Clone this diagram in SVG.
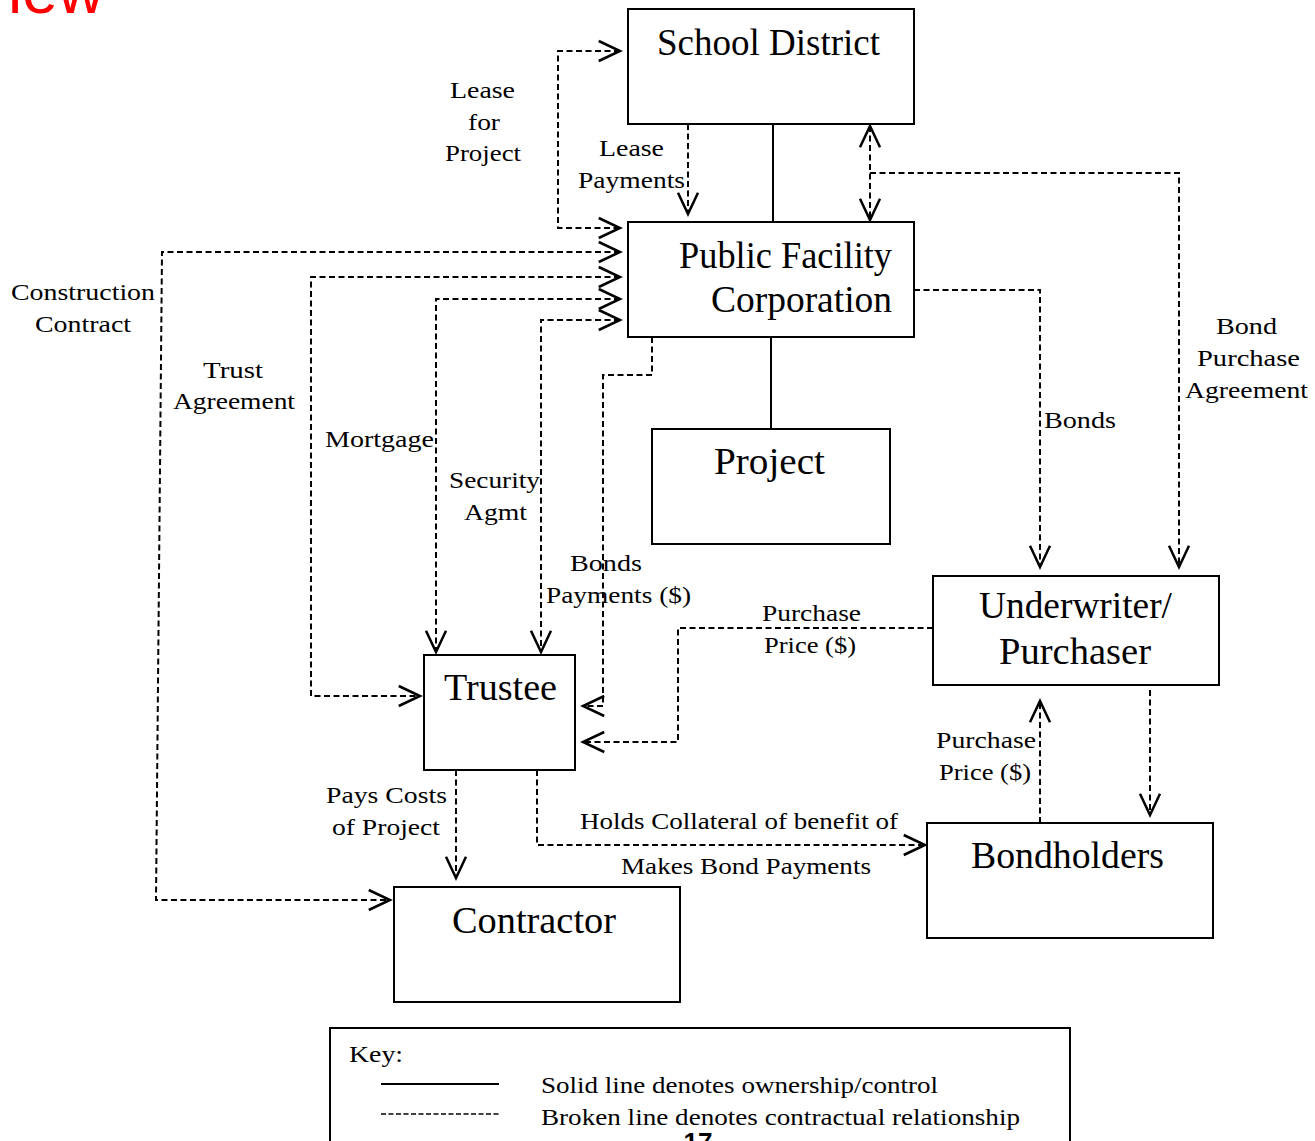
<svg xmlns="http://www.w3.org/2000/svg" width="1315" height="1141" viewBox="0 0 1315 1141">
<style>
.box{fill:#fff;stroke:#000;stroke-width:2}
.solid{stroke:#000;stroke-width:2;fill:none}
.dash{stroke:#000;stroke-width:2;fill:none;stroke-dasharray:6 3.5}
.t{font-family:"Liberation Serif","Times New Roman",serif;font-size:37px;fill:#000}
.l{font-family:"Liberation Serif","Times New Roman",serif;font-size:24px;fill:#000}
</style>
<defs>
<marker id="a" markerUnits="userSpaceOnUse" markerWidth="30" markerHeight="30" viewBox="-20 -12 24 24" refX="0" refY="0" orient="auto-start-reverse" overflow="visible">
<path d="M-17,-8 L0,0 L-17,8" fill="none" stroke="#000" stroke-width="2" stroke-dasharray="none"/>
</marker>
</defs>
<rect width="1315" height="1141" fill="#fff"/>
<text x="8" y="13" font-family="'Liberation Sans',Arial,sans-serif" font-size="64" fill="#ff0000">iew</text>

<g id="connectors">
<line class="solid" x1="773" y1="124" x2="773" y2="222"/>
<line class="solid" x1="771" y1="337" x2="771" y2="429"/>
<path class="dash" d="M620,51 H558 V228 H620" marker-start="url(#a)" marker-end="url(#a)"/>
<path class="dash" d="M688,124 V214" marker-end="url(#a)"/>
<path class="dash" d="M870,126 V220" marker-start="url(#a)" marker-end="url(#a)"/>
<path class="dash" d="M870,173 H1179 V567" marker-end="url(#a)"/>
<path class="dash" d="M914,290 H1040 V567" marker-end="url(#a)"/>
<path class="dash" d="M620,252 H162 L156,900 H390" marker-start="url(#a)" marker-end="url(#a)"/>
<path class="dash" d="M620,277 H311 V696 H420" marker-start="url(#a)" marker-end="url(#a)"/>
<path class="dash" d="M620,299 H436 V652" marker-start="url(#a)" marker-end="url(#a)"/>
<path class="dash" d="M620,320 H541 V652" marker-start="url(#a)" marker-end="url(#a)"/>
<path class="dash" d="M652,337 V375 H603 V706 H583" marker-end="url(#a)"/>
<path class="dash" d="M933,628 H678 V742 H583" marker-end="url(#a)"/>
<path class="dash" d="M456,770 V878" marker-end="url(#a)"/>
<path class="dash" d="M537,770 V845 H925" marker-end="url(#a)"/>
<path class="dash" d="M1040,823 V701" marker-end="url(#a)"/>
<path class="dash" d="M1150,690 V815" marker-end="url(#a)"/>
</g>

<g id="labels">
<text class="l" x="450" y="98" textLength="65" lengthAdjust="spacingAndGlyphs">Lease</text>
<text class="l" x="468" y="130" textLength="32" lengthAdjust="spacingAndGlyphs">for</text>
<text class="l" x="445" y="161" textLength="76" lengthAdjust="spacingAndGlyphs">Project</text>
<text class="l" x="599" y="156" textLength="65" lengthAdjust="spacingAndGlyphs">Lease</text>
<text class="l" x="578" y="188" textLength="107" lengthAdjust="spacingAndGlyphs">Payments</text>
<text class="l" x="11" y="300" textLength="144" lengthAdjust="spacingAndGlyphs">Construction</text>
<text class="l" x="35" y="332" textLength="96" lengthAdjust="spacingAndGlyphs">Contract</text>
<text class="l" x="203" y="378" textLength="60" lengthAdjust="spacingAndGlyphs">Trust</text>
<text class="l" x="173" y="409" textLength="122" lengthAdjust="spacingAndGlyphs">Agreement</text>
<text class="l" x="325" y="447" textLength="109" lengthAdjust="spacingAndGlyphs">Mortgage</text>
<text class="l" x="449" y="488" textLength="91" lengthAdjust="spacingAndGlyphs">Security</text>
<text class="l" x="464" y="520" textLength="63" lengthAdjust="spacingAndGlyphs">Agmt</text>
<text class="l" x="570" y="571" textLength="72" lengthAdjust="spacingAndGlyphs">Bonds</text>
<text class="l" x="546" y="603" textLength="145" lengthAdjust="spacingAndGlyphs">Payments ($)</text>
<text class="l" x="1044" y="428" textLength="72" lengthAdjust="spacingAndGlyphs">Bonds</text>
<text class="l" x="1216" y="334" textLength="61" lengthAdjust="spacingAndGlyphs">Bond</text>
<text class="l" x="1197" y="366" textLength="103" lengthAdjust="spacingAndGlyphs">Purchase</text>
<text class="l" x="1185" y="398" textLength="123" lengthAdjust="spacingAndGlyphs">Agreement</text>
<text class="l" x="762" y="621" textLength="99" lengthAdjust="spacingAndGlyphs">Purchase</text>
<text class="l" x="764" y="653" textLength="92" lengthAdjust="spacingAndGlyphs">Price ($)</text>
<text class="l" x="936" y="748" textLength="100" lengthAdjust="spacingAndGlyphs">Purchase</text>
<text class="l" x="939" y="780" textLength="92" lengthAdjust="spacingAndGlyphs">Price ($)</text>
<text class="l" x="326" y="803" textLength="121" lengthAdjust="spacingAndGlyphs">Pays Costs</text>
<text class="l" x="332" y="835" textLength="108" lengthAdjust="spacingAndGlyphs">of Project</text>
<text class="l" x="580" y="829" textLength="318" lengthAdjust="spacingAndGlyphs">Holds Collateral of benefit of</text>
<text class="l" x="621" y="874" textLength="250" lengthAdjust="spacingAndGlyphs">Makes Bond Payments</text>
</g>

<g id="school-district">
<rect class="box" x="628" y="9" width="286" height="115"/>
<text class="t" x="657" y="55" textLength="223" lengthAdjust="spacingAndGlyphs">School District</text>
</g>
<g id="public-facility-corporation">
<rect class="box" x="628" y="222" width="286" height="115"/>
<text class="t" x="679" y="268" textLength="213" lengthAdjust="spacingAndGlyphs">Public Facility</text>
<text class="t" x="711" y="312" textLength="181" lengthAdjust="spacingAndGlyphs">Corporation</text>
</g>
<g id="project">
<rect class="box" x="652" y="429" width="238" height="115"/>
<text class="t" x="714" y="474" textLength="111" lengthAdjust="spacingAndGlyphs">Project</text>
</g>
<g id="underwriter-purchaser">
<rect class="box" x="933" y="576" width="286" height="109"/>
<text class="t" x="979" y="618" textLength="193" lengthAdjust="spacingAndGlyphs">Underwriter/</text>
<text class="t" x="999" y="664" textLength="152" lengthAdjust="spacingAndGlyphs">Purchaser</text>
</g>
<g id="trustee">
<rect class="box" x="424" y="655" width="151" height="115"/>
<text class="t" x="444" y="700" textLength="113" lengthAdjust="spacingAndGlyphs">Trustee</text>
</g>
<g id="contractor">
<rect class="box" x="394" y="887" width="286" height="115"/>
<text class="t" x="452" y="933" textLength="164" lengthAdjust="spacingAndGlyphs">Contractor</text>
</g>
<g id="bondholders">
<rect class="box" x="927" y="823" width="286" height="115"/>
<text class="t" x="971" y="868" textLength="193" lengthAdjust="spacingAndGlyphs">Bondholders</text>
</g>

<g id="key">
<rect class="box" x="330" y="1028" width="740" height="140"/>
<text class="l" x="349" y="1062" textLength="54" lengthAdjust="spacingAndGlyphs">Key:</text>
<line x1="381" y1="1084" x2="499" y2="1084" stroke="#000" stroke-width="2"/>
<line x1="381" y1="1114" x2="499" y2="1114" stroke="#000" stroke-width="1.6" stroke-dasharray="5 2.5"/>
<text class="l" x="541" y="1093" textLength="397" lengthAdjust="spacingAndGlyphs">Solid line denotes ownership/control</text>
<text class="l" x="541" y="1125" textLength="479" lengthAdjust="spacingAndGlyphs">Broken line denotes contractual relationship</text>
</g>
<text x="698" y="1151" text-anchor="middle" font-family="'Liberation Sans',Arial,sans-serif" font-size="26" font-weight="bold" fill="#000">17</text>
</svg>
